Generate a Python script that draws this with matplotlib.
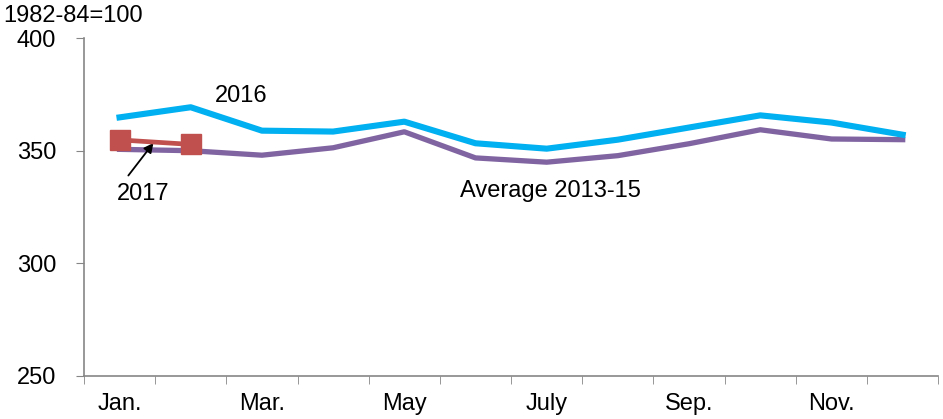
import numpy as np
import matplotlib.pyplot as plt

plt.rcParams['font.family'] = ['Liberation Sans', 'DejaVu Sans']

months = ["Jan.", "Feb.", "Mar.", "Apr.", "May", "June", "July", "Aug.", "Sep.", "Oct.", "Nov.", "Dec."]
avg_2013_15 = [350.6, 350.0, 348.0, 351.3, 358.4, 346.8, 344.9, 347.8, 353.1, 359.3, 355.2, 354.9]
y2016 = [364.8, 369.3, 358.9, 358.5, 362.9, 353.3, 350.9, 354.9, 360.3, 365.7, 362.5, 357.1]
y2017 = [354.8, 352.8]
tick_months = ["Jan.", "Mar.", "May", "July", "Sep.", "Nov."]

x = np.arange(1, 13)
fs = 17

fig = plt.figure(figsize=(9.43, 4.19), dpi=100)
ax = fig.add_axes([0.089, 0.103, 0.906, 0.806])

ax.plot(x, avg_2013_15, color='#8064A2', lw=3.8, solid_joinstyle='round', zorder=2)
ax.plot(x, y2016, color='#00B0F0', lw=4.4, solid_joinstyle='round', zorder=3)
ax.plot(x[:len(y2017)], y2017, color='#C0504D', lw=3.4, marker='s', ms=14, zorder=4)

ax.set_xlim(0.5, 12.5)
ax.set_ylim(250, 400)
ax.set_yticks([250, 300, 350, 400])

label_pos = [months.index(m) + 1 for m in tick_months]
ax.set_xticks(label_pos)
ax.set_xticklabels(tick_months)
ax.set_xticks(np.arange(0.5, 13, 1), minor=True)
ax.tick_params(axis='x', which='major', length=0, pad=12, labelsize=fs)
ax.tick_params(axis='x', which='minor', length=6, color='#868686', direction='out')
ax.tick_params(axis='y', length=6, color='#868686', labelsize=fs, pad=14)

for s in ['top', 'right']:
    ax.spines[s].set_visible(False)
for s in ['left', 'bottom']:
    ax.spines[s].set_color('#868686')
    ax.spines[s].set_linewidth(1.2)

fig.text(0.003, 0.963, "1982-84=100", fontsize=fs, ha='left', va='center')
ax.text(2.71, 374.4, "2016", fontsize=fs, ha='center', va='center')
ax.text(1.33, 330.9, "2017", fontsize=fs, ha='center', va='center')
ax.text(7.05, 332.2, "Average 2013-15", fontsize=fs, ha='center', va='center')
ax.annotate("", xy=(1.5, 354.4), xytext=(1.1, 338.0),
            arrowprops=dict(arrowstyle='-|>', color='black', lw=1.3, mutation_scale=14))

fig.savefig("out.png", dpi=100)
